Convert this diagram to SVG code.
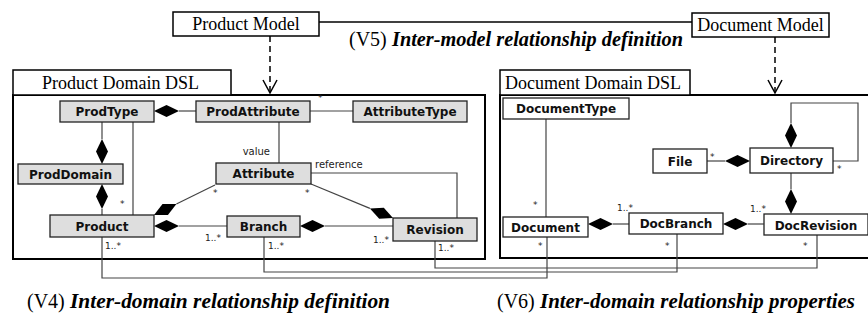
<svg xmlns="http://www.w3.org/2000/svg" width="868" height="322" viewBox="0 0 868 322">
<style>
.frame{fill:#fff;stroke:#000;stroke-width:2}
.tab{fill:#fff;stroke:#000;stroke-width:1.5}
.model{fill:#fff;stroke:#000;stroke-width:1.5}
.ttl{font-family:"Liberation Serif",serif;font-size:18px;fill:#000}
.pn{fill:#dedede;stroke:#222;stroke-width:1.3}
.dn{fill:#fff;stroke:#222;stroke-width:1.3}
.nl{font-family:"DejaVu Sans",sans-serif;font-weight:bold;font-size:12px;fill:#111;text-anchor:middle}
.ln{fill:none;stroke:#444;stroke-width:1.2}
.dia{fill:#000;stroke:none}
.sm{font-family:"DejaVu Sans",sans-serif;font-size:9px;fill:#222}
.lbl{font-family:"DejaVu Sans",sans-serif;font-size:10px;fill:#222}
.cap{font-family:"Liberation Serif",serif;fill:#000}
.bi{font-weight:bold;font-style:italic}
.dash{fill:none;stroke:#000;stroke-width:1.5;stroke-dasharray:6,4}
.arr{fill:none;stroke:#000;stroke-width:1.5}
</style>

<!-- frames -->
<g id="product-domain-dsl">
<rect class="frame" x="13" y="95" width="472" height="164"/>
<rect class="tab" x="13" y="70" width="218" height="25"/>
<text class="ttl" x="42" y="89">Product Domain DSL</text>
</g>
<g id="document-domain-dsl">
<rect class="frame" x="500" y="95" width="390" height="163"/>
<rect class="tab" x="500" y="70" width="190" height="25"/>
<text class="ttl" x="505" y="89">Document Domain DSL</text>
</g>

<!-- models -->
<g id="product-model">
<rect class="model" x="173" y="12" width="146" height="24"/>
<text class="ttl" x="246" y="30" text-anchor="middle">Product Model</text>
</g>
<g id="document-model">
<rect class="model" x="692" y="13" width="137" height="24"/>
<text class="ttl" x="760.5" y="31" text-anchor="middle">Document Model</text>
</g>

<!-- connectors -->
<g id="connectors">
<line class="arr" x1="319" y1="22" x2="692" y2="22"/>
<line class="dash" x1="270" y1="36" x2="270" y2="92"/>
<polyline class="arr" points="263,80 270,93 277,80"/>
<line class="dash" x1="775" y1="37" x2="775" y2="92"/>
<polyline class="arr" points="768,80 775,93 782,80"/>

<!-- product domain -->
<line class="ln" x1="179" y1="111" x2="196" y2="111"/>
<path class="dia" d="M154,111 L166.5,105 L179,111 L166.5,117 Z"/>
<line class="ln" x1="310" y1="111" x2="353" y2="111"/>
<line class="ln" x1="102" y1="122" x2="102" y2="139"/>
<path class="dia" d="M102,139 L108,151.5 L102,164 L96,151.5 Z"/>
<line class="ln" x1="102" y1="209" x2="102" y2="215"/>
<path class="dia" d="M102,184 L108,196.5 L102,209 L96,196.5 Z"/>
<line class="ln" x1="133" y1="122" x2="133" y2="215"/>
<line class="ln" x1="279" y1="122" x2="279" y2="163"/>
<polyline class="ln" points="311,173 457,173 457,218"/>
<line class="ln" x1="215" y1="185" x2="176.4" y2="204"/>
<path class="dia" d="M154,215 L167.9,214.9 L176.4,204 L162.5,204.1 Z"/>
<line class="ln" x1="311" y1="184" x2="369.9" y2="208.4"/>
<path class="dia" d="M393,218 L379.2,218.7 L369.9,208.4 L383.8,207.7 Z"/>
<line class="ln" x1="179" y1="226" x2="227" y2="226"/>
<path class="dia" d="M154,226 L166.5,220 L179,226 L166.5,232 Z"/>
<line class="ln" x1="325" y1="226" x2="393" y2="226"/>
<path class="dia" d="M300,226 L312.5,220 L325,226 L312.5,232 Z"/>

<!-- document domain -->
<line class="ln" x1="546" y1="119" x2="546" y2="217"/>
<line class="ln" x1="613" y1="224" x2="629" y2="224"/>
<path class="dia" d="M588,224 L600.5,218 L613,224 L600.5,230 Z"/>
<line class="ln" x1="748" y1="224" x2="764" y2="224"/>
<path class="dia" d="M723,224 L735.5,218 L748,224 L735.5,230 Z"/>
<line class="ln" x1="707" y1="161" x2="725" y2="161"/>
<path class="dia" d="M725,161 L737.5,155 L750,161 L737.5,167 Z"/>
<polyline class="ln" points="791,123 791,103 858,103 858,161 833,161"/>
<path class="dia" d="M791,123 L797,135.5 L791,148 L785,135.5 Z"/>
<line class="ln" x1="791" y1="173" x2="791" y2="189"/>
<path class="dia" d="M791,189 L797,201.5 L791,214 L785,201.5 Z"/>

<!-- inter-domain -->
<polyline class="ln" points="102,237 102,278 547,278 547,237"/>
<polyline class="ln" points="264,237 264,272 677,272 677,234"/>
<polyline class="ln" points="435,241 435,268 817,268 817,235"/>
</g>

<!-- product nodes -->
<g id="ProdType"><rect class="pn" x="60" y="101" width="94" height="21"/><text class="nl" x="107" y="116">ProdType</text></g>
<g id="ProdAttribute"><rect class="pn" x="196" y="101" width="114" height="21"/><text class="nl" x="253" y="116">ProdAttribute</text></g>
<g id="AttributeType"><rect class="pn" x="353" y="101" width="114" height="21"/><text class="nl" x="410" y="116">AttributeType</text></g>
<g id="ProdDomain"><rect class="pn" x="18" y="164" width="105" height="20"/><text class="nl" x="70.5" y="178.5">ProdDomain</text></g>
<g id="Attribute"><rect class="pn" x="216" y="163" width="95" height="21"/><text class="nl" x="263.5" y="178">Attribute</text></g>
<g id="Product"><rect class="pn" x="50" y="215" width="104" height="22"/><text class="nl" x="102" y="230.5">Product</text></g>
<g id="Branch"><rect class="pn" x="227" y="216" width="73" height="21"/><text class="nl" x="263.5" y="231">Branch</text></g>
<g id="Revision"><rect class="pn" x="393" y="218" width="84" height="23"/><text class="nl" x="435" y="234">Revision</text></g>

<!-- document nodes -->
<g id="DocumentType"><rect class="dn" x="503" y="98" width="126" height="21"/><text class="nl" x="566" y="113">DocumentType</text></g>
<g id="File"><rect class="dn" x="653" y="149" width="54" height="24"/><text class="nl" x="680" y="165.5">File</text></g>
<g id="Directory"><rect class="dn" x="750" y="148" width="83" height="25"/><text class="nl" x="791.5" y="165">Directory</text></g>
<g id="Document"><rect class="dn" x="503" y="217" width="85" height="20"/><text class="nl" x="545.5" y="231.5">Document</text></g>
<g id="DocBranch"><rect class="dn" x="629" y="213" width="94" height="21"/><text class="nl" x="676" y="228">DocBranch</text></g>
<g id="DocRevision"><rect class="dn" x="764" y="214" width="104" height="21"/><text class="nl" x="816" y="229.5">DocRevision</text></g>

<!-- small labels -->
<g id="labels">
<text class="sm" x="318" y="101">*</text>
<text class="lbl" x="270" y="155" text-anchor="end">value</text>
<text class="lbl" x="315" y="168">reference</text>
<text class="sm" x="120" y="207">*</text>
<text class="sm" x="213" y="196">*</text>
<text class="sm" x="305" y="196">*</text>
<text class="sm" x="205" y="241">1..*</text>
<text class="sm" x="373" y="243">1..*</text>
<text class="sm" x="105" y="249">1..*</text>
<text class="sm" x="268" y="249">1..*</text>
<text class="sm" x="438" y="251">1..*</text>
<text class="sm" x="533" y="208">*</text>
<text class="sm" x="538" y="249">*</text>
<text class="sm" x="617" y="211">1..*</text>
<text class="sm" x="750" y="212">1..*</text>
<text class="sm" x="665" y="249">*</text>
<text class="sm" x="803" y="249">*</text>
<text class="sm" x="710" y="160">*</text>
<text class="sm" x="837" y="172">*</text>
</g>

<!-- captions -->
<g id="captions">
<text class="cap" x="349" y="46" font-size="20">(V5)</text>
<text class="cap bi" x="392" y="46" font-size="20" textLength="291" lengthAdjust="spacingAndGlyphs">Inter-model relationship definition</text>
<text class="cap" x="27" y="308" font-size="20">(V4)</text>
<text class="cap bi" x="70" y="308" font-size="20" textLength="320" lengthAdjust="spacingAndGlyphs">Inter-domain relationship definition</text>
<text class="cap" x="497" y="308" font-size="20">(V6)</text>
<text class="cap bi" x="540" y="308" font-size="20" textLength="315" lengthAdjust="spacingAndGlyphs">Inter-domain relationship properties</text>
</g>
</svg>
